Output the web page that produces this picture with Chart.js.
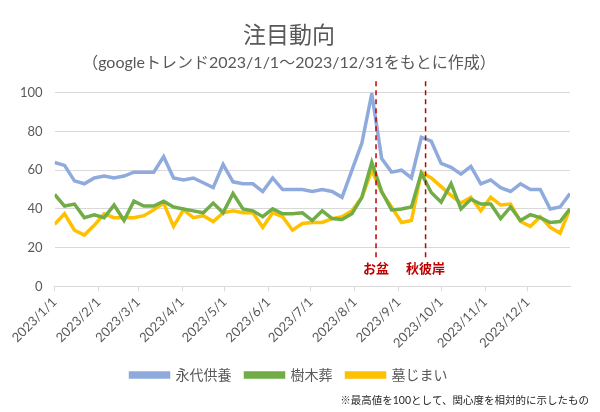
<!DOCTYPE html>
<html lang="ja">
<head>
    <meta charset="UTF-8">
    <title>注目動向</title>
    <style>
        body {
            margin: 0;
            padding: 0;
            background: #ffffff;
        }
        #wrap {
            width: 600px;
            height: 412px;
        }
    </style>
</head>
<body>
    <div id="wrap"><canvas id="myChart" width="600" height="412"></canvas></div>

    <script src="https://cdn.jsdelivr.net/npm/chart.js"></script>
    <script>
        // 週ごとのデータ (2023/1/1 から 7 日おき)
        const eitaiKuyo = [64, 62.5, 54.5, 53, 56, 57, 56, 57, 59, 59, 59, 67, 56, 55, 56, 53.5, 51, 63, 54, 53,
            53, 49, 56, 50, 50, 50, 49, 50, 49, 46, 60, 74, 99.5, 66, 59, 60, 56, 77, 75, 63.5,
            61.5, 58, 62, 53, 55, 51, 49, 53, 50, 50, 40, 41, 48];
        const jumokuso = [47.5, 41.5, 42.5, 35.5, 37, 35.5, 42, 34, 44, 41.5, 41.5, 44, 41, 40, 39, 38, 43, 38, 48, 40,
            39, 36, 40, 37.5, 37.5, 38, 34, 39, 35, 34.5, 37.5, 46, 64, 49, 39.5, 40, 41, 58.5, 48.5, 43.5,
            53, 40, 45, 42.5, 42.5, 35, 41, 34, 37, 35.5, 33, 33.5, 40];
        const hakajimai = [32, 37.5, 29, 26.5, 31.5, 37.5, 35.5, 35.5, 35.5, 36.5, 39.5, 43, 31, 39.5, 35.5, 36.5, 33.5, 38, 39, 38,
            38, 30.5, 38, 36, 29, 32.5, 33, 33, 35, 36, 39, 46, 60, 48.5, 41, 33, 34, 59, 56, 51.5,
            47, 43, 46, 39, 46, 42, 42.5, 33.5, 31, 36, 30.5, 27.5, 40];

        // 月初の目盛り (1/1 からの日数)
        const monthDays = [0, 31, 59, 90, 120, 151, 181, 212, 243, 273, 304, 334];
        const monthLabels = ['2023/1/1', '2023/2/1', '2023/3/1', '2023/4/1', '2023/5/1', '2023/6/1',
            '2023/7/1', '2023/8/1', '2023/9/1', '2023/10/1', '2023/11/1', '2023/12/1'];

        // 注記 (お盆・秋彼岸)
        const eventDays = [227, 262];
        const eventLabels = ['お盆', '秋彼岸'];

        const fontFamily = "Lato, 'Noto Sans CJK JP', sans-serif";
        const gray = '#595959';

        function toPoints(values) {
            return values.map(function(v, i) {
                return { x: i * 7, y: v };
            });
        }

        // 点線と注記
        const eventPlugin = {
            id: 'eventLines',
            afterDatasetsDraw(chart) {
                const ctx = chart.ctx;
                const xs = chart.scales.x;
                const ys = chart.scales.y;
                ctx.save();
                ctx.strokeStyle = '#C00000';
                ctx.lineWidth = 1.5;
                ctx.setLineDash([5, 4]);
                eventDays.forEach(function(d) {
                    const x = xs.getPixelForValue(d);
                    ctx.beginPath();
                    ctx.moveTo(x, ys.getPixelForValue(106));
                    ctx.lineTo(x, ys.getPixelForValue(13.5));
                    ctx.stroke();
                });
                ctx.setLineDash([]);
                ctx.fillStyle = '#C00000';
                ctx.font = "bold 13px " + fontFamily;
                ctx.textAlign = 'center';
                ctx.textBaseline = 'middle';
                eventDays.forEach(function(d, i) {
                    ctx.fillText(eventLabels[i], xs.getPixelForValue(d), ys.getPixelForValue(9));
                });
                ctx.restore();
            }
        };

        // 脚注
        const notePlugin = {
            id: 'footNote',
            afterDraw(chart) {
                const ctx = chart.ctx;
                ctx.save();
                ctx.fillStyle = '#262626';
                ctx.font = "10.5px " + fontFamily;
                ctx.textAlign = 'right';
                ctx.textBaseline = 'middle';
                ctx.fillText('※最高値を100として、関心度を相対的に示したもの', 589, 401);
                ctx.restore();
            }
        };

        const ctx = document.getElementById('myChart').getContext('2d');
        new Chart(ctx, {
            type: 'line',
            data: {
                datasets: [{
                    label: '永代供養',
                    data: toPoints(eitaiKuyo),
                    borderColor: '#8FAADC',
                    backgroundColor: '#8FAADC',
                    borderWidth: 3.5,
                    pointRadius: 0,
                    fill: false
                }, {
                    label: '樹木葬',
                    data: toPoints(jumokuso),
                    borderColor: '#70AD47',
                    backgroundColor: '#70AD47',
                    borderWidth: 3.5,
                    pointRadius: 0,
                    fill: false
                }, {
                    label: '墓じまい',
                    data: toPoints(hakajimai),
                    borderColor: '#FFC000',
                    backgroundColor: '#FFC000',
                    borderWidth: 3.5,
                    pointRadius: 0,
                    fill: false
                }]
            },
            options: {
                responsive: false,
                animation: false,
                layout: {
                    padding: { left: 8, right: 30, top: 6, bottom: 20 }
                },
                plugins: {
                    title: {
                        display: true,
                        text: '注目動向',
                        color: gray,
                        font: { family: fontFamily, size: 23, weight: 'normal' },
                        padding: { top: 16, bottom: 4 }
                    },
                    subtitle: {
                        display: true,
                        text: '（googleトレンド2023/1/1～2023/12/31をもとに作成）',
                        color: gray,
                        font: { family: fontFamily, size: 16, weight: 'normal' },
                        padding: { bottom: 20 }
                    },
                    legend: {
                        position: 'bottom',
                        labels: {
                            color: gray,
                            font: { family: fontFamily, size: 14 },
                            boxWidth: 38,
                            boxHeight: 4,
                            padding: 14
                        }
                    },
                    tooltip: { enabled: false }
                },
                scales: {
                    x: {
                        type: 'linear',
                        min: 0,
                        max: 364,
                        afterBuildTicks: function(scale) {
                            scale.ticks = monthDays.map(function(d) { return { value: d }; });
                        },
                        ticks: {
                            autoSkip: false,
                            maxRotation: 45,
                            minRotation: 45,
                            color: gray,
                            font: { family: fontFamily, size: 13 },
                            callback: function(value) {
                                const i = monthDays.indexOf(value);
                                return i >= 0 ? monthLabels[i] : '';
                            }
                        },
                        grid: {
                            drawOnChartArea: false,
                            drawTicks: true,
                            tickLength: 5,
                            color: '#D9D9D9'
                        },
                        border: { color: '#D9D9D9', width: 1 }
                    },
                    y: {
                        min: 0,
                        max: 100,
                        ticks: {
                            stepSize: 20,
                            color: gray,
                            font: { family: fontFamily, size: 13 },
                            padding: 12
                        },
                        grid: {
                            color: '#D9D9D9',
                            drawTicks: false
                        },
                        border: { display: false }
                    }
                }
            },
            plugins: [eventPlugin, notePlugin]
        });
    </script>
</body>
</html>
